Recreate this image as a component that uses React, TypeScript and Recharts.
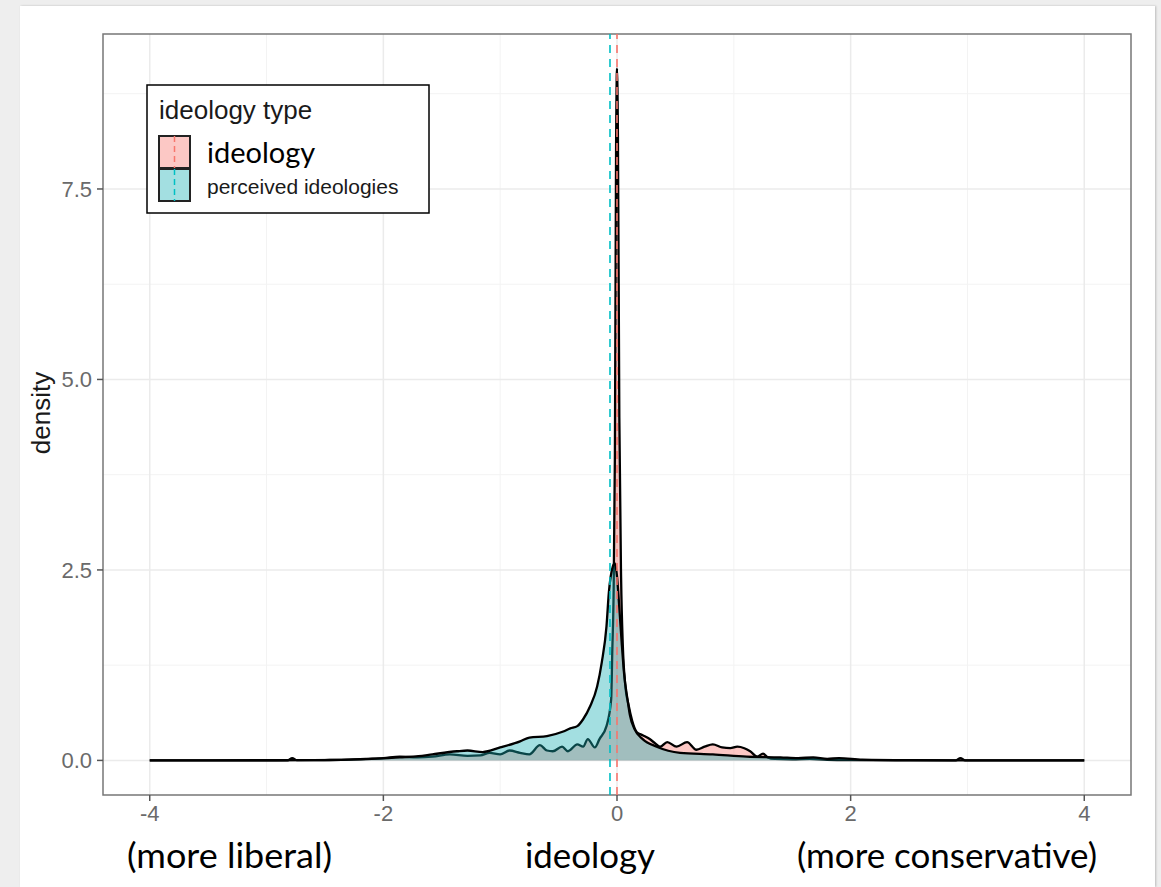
import { ComposedChart, Area, XAxis, YAxis, CartesianGrid, ReferenceLine, ReferenceArea } from 'recharts'

// density of self-reported ideology (red)
const ideologyX = [
  -4, -3.5, -3, -2.82, -2.78, -2.74, -2.5, -2.29, -2.15, -2, -1.86, -1.71, -1.58, -1.43, -1.28,
  -1.17, -1.09, -1, -0.92, -0.83, -0.75, -0.66, -0.6, -0.55, -0.47, -0.42, -0.34, -0.29, -0.25,
  -0.19, -0.15, -0.09, -0.05, -0.04, -0.03, -0.018, -0.008, 0, 0.008, 0.02, 0.035, 0.05, 0.07,
  0.1, 0.13, 0.17, 0.22, 0.28, 0.33, 0.37, 0.43, 0.51, 0.6, 0.68, 0.75, 0.82, 0.9, 0.97, 1.03,
  1.09, 1.14, 1.2, 1.25, 1.29, 1.35, 1.5, 1.65, 1.8, 2, 2.4, 2.9, 2.94, 2.98, 3.5, 4,
]
const ideologyDensity = [
  0, 0, 0.001, 0.002, 0.03, 0.003, 0.005, 0.01, 0.02, 0.03, 0.05, 0.04, 0.05, 0.08, 0.06,
  0.066, 0.1, 0.08, 0.13, 0.1, 0.08, 0.2, 0.13, 0.12, 0.18, 0.12, 0.21, 0.18, 0.28,
  0.17, 0.28, 0.45, 0.8, 1.46, 2.1, 4.0, 8.0, 9.08, 8.2, 4.5, 2.4, 1.5, 1.0,
  0.72, 0.52, 0.37, 0.33, 0.28, 0.22, 0.18, 0.24, 0.18, 0.24, 0.14, 0.18, 0.21, 0.17, 0.16, 0.18,
  0.16, 0.12, 0.05, 0.09, 0.04, 0.02, 0.015, 0.02, 0.008, 0.004, 0.002, 0.001, 0.03, 0.001, 0, 0,
]

// density of perceived ideologies (teal)
const perceivedX = [
  -4, -3.5, -3, -2.6, -2.3, -2.1, -1.86, -1.7, -1.58, -1.37, -1.28, -1.15, -1, -0.83, -0.75,
  -0.6, -0.46, -0.4, -0.34, -0.29, -0.23, -0.17, -0.13, -0.09, -0.07, -0.035, -0.02, 0, 0.02,
  0.04, 0.06, 0.09, 0.11, 0.15, 0.22, 0.34, 0.54, 0.82, 1.11, 1.4, 1.55, 1.68, 1.8, 1.9, 2.1,
  2.5, 3, 4,
]
const perceivedDensity = [
  0, 0.001, 0.002, 0.004, 0.01, 0.02, 0.04, 0.055, 0.08, 0.12, 0.13, 0.11, 0.17, 0.25, 0.3,
  0.32, 0.38, 0.42, 0.45, 0.54, 0.71, 0.97, 1.29, 1.76, 2.2, 2.55, 2.59, 2.42, 2.0,
  1.55, 1.15, 0.8, 0.6, 0.41, 0.28, 0.18, 0.1, 0.08, 0.05, 0.04, 0.03, 0.04, 0.02, 0.03, 0.01,
  0.003, 0.001, 0,
]

const ideologyMean = 0
const perceivedMean = -0.06

const xTicks = [-4, -2, 0, 2, 4]
const xMinor = [-3, -1, 1, 3]
const yTicks = [0, 2.5, 5, 7.5]
const yMinor = [1.25, 3.75, 6.25, 8.75]
const xDomain = [-4.4, 4.4]
const yDomain = [-0.454, 9.534]

const legendTitle = 'ideology type'
const legendLabels = ['ideology', 'perceived ideologies']
const bottomLabels = ['(more liberal)', 'ideology', '(more conservative)']

const RED = '#F8766D'
const TEAL = '#00BFC4'
const TEAL_FILL = '#1AAFB5'

const xs = Array.from(new Set([...ideologyX, ...perceivedX])).sort((a, b) => a - b)
const table = xs.map((x) => {
  const i = ideologyX.indexOf(x)
  const p = perceivedX.indexOf(x)
  return {
    x,
    ideology: i >= 0 ? ideologyDensity[i] : null,
    perceived: p >= 0 ? perceivedDensity[p] : null,
  }
})

const tickStyle = { fontFamily: 'Liberation Sans, Arial, sans-serif', fontSize: 22, fill: '#6a6a6a' }

export default function App() {
  return (
    <div style={{ position: 'absolute', left: 0, top: 0, width: 1161, height: 887, background: '#EEEEEE', overflow: 'hidden' }}>
      <div style={{ position: 'absolute', left: 20, top: 6, width: 1135, height: 881, background: '#fff', boxShadow: '1px 0 2px #bbb' }} />
      <div style={{ position: 'absolute', left: 0, top: 0 }}>
        <ComposedChart width={1161} height={887} data={table} margin={{ top: 34, right: 30, bottom: 52, left: 43 }}>
          <CartesianGrid stroke="#F3F3F3" strokeWidth={1} verticalValues={xMinor} horizontalValues={yMinor} />
          <CartesianGrid stroke="#EBEBEB" strokeWidth={1.5} verticalValues={xTicks} horizontalValues={yTicks} />
          <XAxis
            dataKey="x"
            type="number"
            domain={xDomain}
            ticks={xTicks}
            allowDataOverflow
            axisLine={false}
            tickSize={6}
            tickMargin={4}
            height={40}
            tick={tickStyle}
            tickLine={{ stroke: '#555', strokeWidth: 1.5 }}
          />
          <YAxis
            type="number"
            domain={yDomain}
            ticks={yTicks}
            allowDataOverflow
            axisLine={false}
            tickSize={6}
            tickMargin={5}
            width={60}
            tick={tickStyle}
            tickLine={{ stroke: '#555', strokeWidth: 1.5 }}
            tickFormatter={(v: number) => v.toFixed(1)}
          />
          <Area
            dataKey="ideology"
            type="monotone"
            connectNulls
            baseValue={0}
            stroke="#000"
            strokeWidth={2.3}
            fill={RED}
            fillOpacity={0.4}
            isAnimationActive={false}
          />
          <Area
            dataKey="perceived"
            type="monotone"
            connectNulls
            baseValue={0}
            stroke="#000"
            strokeWidth={2.3}
            fill={TEAL_FILL}
            fillOpacity={0.4}
            isAnimationActive={false}
          />
          <ReferenceLine x={ideologyMean} stroke={RED} strokeWidth={1.6} strokeDasharray="8 6" />
          <ReferenceLine x={perceivedMean} stroke={TEAL} strokeWidth={1.6} strokeDasharray="8 6" />
          <ReferenceArea
            x1={xDomain[0]}
            x2={xDomain[1]}
            y1={yDomain[0]}
            y2={yDomain[1]}
            fill="none"
            stroke="#777"
            strokeWidth={1.5}
            ifOverflow="visible"
          />
        </ComposedChart>
      </div>
      <svg width={1161} height={887} style={{ position: 'absolute', left: 0, top: 0, pointerEvents: 'none' }}>
        <text
          transform="translate(50,413) rotate(-90)"
          textAnchor="middle"
          fontFamily="Liberation Sans, Arial, sans-serif"
          fontSize={26}
          fill="#1a1a1a"
        >
          density
        </text>
        <rect x={147} y={85} width={282} height={128} fill="#fff" stroke="#000" strokeWidth={1.5} />
        <text x={159} y={119} fontFamily="Liberation Sans, Arial, sans-serif" fontSize={26} fill="#1a1a1a">
          {legendTitle}
        </text>
        <rect x={159} y={136} width={31} height={32} fill={RED} fillOpacity={0.4} stroke="#222" strokeWidth={2} />
        <line x1={174.5} y1={136} x2={174.5} y2={168} stroke={RED} strokeWidth={1.5} strokeDasharray="6 4" />
        <rect x={159} y={169} width={31} height={32} fill={TEAL_FILL} fillOpacity={0.4} stroke="#222" strokeWidth={2} />
        <line x1={174.5} y1={169} x2={174.5} y2={201} stroke={TEAL} strokeWidth={1.5} strokeDasharray="6 4" />
        <text x={207} y={163} fontFamily="Lato, sans-serif" fontSize={29} fill="#000">
          {legendLabels[0]}
        </text>
        <text x={207} y={194} fontFamily="Liberation Sans, Arial, sans-serif" fontSize={21} fill="#1a1a1a">
          {legendLabels[1]}
        </text>
        <text x={127} y={868} fontFamily="Lato, sans-serif" fontSize={35} fill="#000" textLength={205} lengthAdjust="spacingAndGlyphs">
          {bottomLabels[0]}
        </text>
        <text x={525} y={868} fontFamily="Lato, sans-serif" fontSize={35} fill="#000" textLength={130} lengthAdjust="spacingAndGlyphs">
          {bottomLabels[1]}
        </text>
        <text x={797} y={868} fontFamily="Lato, sans-serif" fontSize={35} fill="#000" textLength={300} lengthAdjust="spacingAndGlyphs">
          {bottomLabels[2]}
        </text>
      </svg>
    </div>
  )
}
